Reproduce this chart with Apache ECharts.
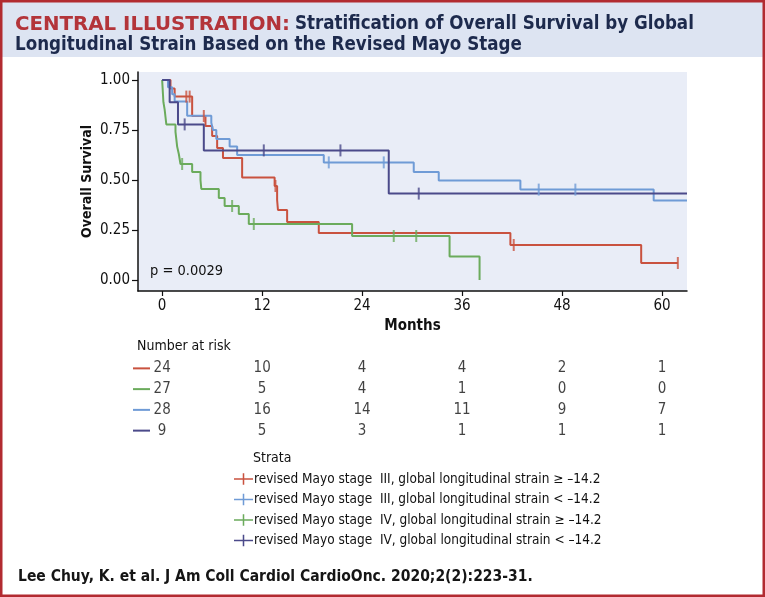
<!DOCTYPE html>
<html>
<head>
<meta charset="utf-8">
<script src="https://cdn.jsdelivr.net/npm/echarts@6/dist/echarts.min.js"></script>
<style>
  html, body { margin: 0; padding: 0; background: #fff; }
  #chart { width: 765px; height: 597px; }
</style>
</head>
<body>
<div id="chart"></div>
<script>
  // survival curves [months, survival]
  const redSurv = [[0, 1], [1.0, 0.958], [1.5, 0.917], [3.6, 0.82], [5.2, 0.77], [6.0, 0.72], [6.6, 0.66], [7.3, 0.61], [9.6, 0.513], [13.5, 0.47], [13.8, 0.40], [13.9, 0.35], [15.0, 0.29], [18.8, 0.235], [41.8, 0.175], [57.5, 0.085], [61.9, 0.085]]
  const redCens = [[2.9, 0.917], [3.3, 0.917], [5.0, 0.82], [13.6, 0.47], [42.2, 0.175], [61.9, 0.085]]
  const blueSurv = [[0, 1], [0.7, 0.964], [1.2, 0.929], [1.5, 0.893], [3.0, 0.821], [5.9, 0.786], [6.1, 0.75], [6.5, 0.705], [8.1, 0.667], [9.0, 0.625], [19.4, 0.588], [30.2, 0.54], [33.2, 0.497], [43.0, 0.452], [59.0, 0.397], [63, 0.397]]
  const blueCens = [[20.0, 0.588], [26.6, 0.588], [45.2, 0.452], [49.6, 0.452]]
  const greenSurv = [[0, 1], [0.05, 0.963], [0.1, 0.926], [0.15, 0.889], [0.3, 0.852], [0.4, 0.815], [0.5, 0.778], [1.6, 0.741], [1.7, 0.704], [1.8, 0.667], [2.0, 0.63], [2.2, 0.58], [3.6, 0.54], [4.6, 0.50], [4.7, 0.455], [6.8, 0.41], [7.5, 0.37], [9.2, 0.33], [10.4, 0.28], [22.8, 0.22], [34.5, 0.117], [38.1, 0]]
  const greenCens = [[2.4, 0.58], [8.4, 0.37], [11.0, 0.28], [27.8, 0.22], [30.5, 0.22]]
  const purpleSurv = [[0, 1], [0.9, 0.889], [1.9, 0.778], [5.0, 0.648], [27.2, 0.432], [63, 0.432]]
  const purpleCens = [[2.7, 0.778], [12.2, 0.648], [21.4, 0.648], [30.8, 0.432]]

  // axes ticks
  const monthTicks = [0, 12, 24, 36, 48, 60]
  const survTicks = [0, 0.25, 0.5, 0.75, 1]

  // number at risk (rows: red, green, blue, purple)
  const riskTimes = [0, 12, 24, 36, 48, 60]
  const riskRed = [24, 10, 4, 4, 2, 1]
  const riskGreen = [27, 5, 4, 1, 0, 0]
  const riskBlue = [28, 16, 14, 11, 9, 7]
  const riskPurple = [9, 5, 3, 1, 1, 1]

  const strata = [
    'revised Mayo stage  III, global longitudinal strain ≥ –14.2',
    'revised Mayo stage  III, global longitudinal strain < –14.2',
    'revised Mayo stage  IV, global longitudinal strain ≥ –14.2',
    'revised Mayo stage  IV, global longitudinal strain < –14.2'
  ]

  const RED = '#c9523f'
  const BLUE = '#6f9bd6'
  const GREEN = '#6bab5c'
  const PURPLE = '#4b4a8a'
  const FONT = "'Liberation Sans Narrow', 'DejaVu Sans Condensed', sans-serif"

  const riskRows = ['r', 'g', 'b', 'p']
  const riskColors = [RED, GREEN, BLUE, PURPLE]
  const riskData = [];
  [riskRed, riskGreen, riskBlue, riskPurple].forEach((arr, i) => {
    arr.forEach((v, j) => riskData.push([riskTimes[j], riskRows[i], v]))
  })

  function kmLine (name, color, data) {
    return {
      name: name,
      type: 'line',
      step: 'end',
      showSymbol: false,
      symbol: 'none',
      color: color,
      lineStyle: { width: 2, color: color },
      data: data,
      z: 3
    }
  }
  function censor (color, data) {
    return {
      name: 'cens',
      type: 'scatter',
      symbol: 'rect',
      symbolSize: [2, 12],
      itemStyle: { color: color },
      data: data,
      z: 4
    }
  }

  const chart = echarts.init(document.getElementById('chart'))
  chart.setOption({
    animation: false,
    backgroundColor: '#fff',
    title: {
      left: 10,
      top: 9,
      text: '{a|CENTRAL ILLUSTRATION:} {b|Stratification of Overall Survival by Global}\n{b|Longitudinal Strain Based on the Revised Mayo Stage}',
      textStyle: {
        rich: {
          a: { color: '#b3343a', fontWeight: 'bold', fontSize: 19.8, fontFamily: "'DejaVu Sans', sans-serif", lineHeight: 21 },
          b: { color: '#1d2a4d', fontWeight: 'bold', fontSize: 18.6, fontFamily: FONT, lineHeight: 21 }
        }
      }
    },
    graphic: [
      { type: 'rect', shape: { x: 0, y: 0, width: 765, height: 57 }, style: { fill: '#dde4f2' }, z: -10 },
      { type: 'rect', shape: { x: 1.25, y: 1.25, width: 762.5, height: 594.5 }, style: { fill: null, stroke: '#b22b31', lineWidth: 2.5 }, z: 100 },
      { type: 'text', left: 150, top: 264, style: { text: 'p = 0.0029', font: '14.5px ' + FONT, fill: '#111' }, z: 10 },
      { type: 'text', left: 137, top: 339, style: { text: 'Number at risk', font: '14px ' + FONT, fill: '#111' } },
      { type: 'text', left: 253, top: 451, style: { text: 'Strata', font: '14px ' + FONT, fill: '#111' } },
      { type: 'text', left: 18, top: 569, style: { text: 'Lee Chuy, K. et al. J Am Coll Cardiol CardioOnc. 2020;2(2):223-31.', font: 'bold 15.5px ' + FONT, fill: '#151515' } }
    ],
    legend: {
      data: strata,
      orient: 'vertical',
      left: 229,
      top: 467,
      itemWidth: 19,
      itemHeight: 12,
      itemGap: 6.5,
      icon: 'path://M0,5.2h20v1.6h-20z M9.2,0h1.6v12h-1.6z',
      textStyle: { fontFamily: FONT, fontSize: 13.5, color: '#111', padding: [0, 0, 0, -4] },
      selectedMode: false
    },
    grid: [
      { left: 138, top: 72, width: 549, height: 219, backgroundColor: '#e9edf7', show: true, borderWidth: 0 },
      { left: 138, top: 358, width: 549, height: 83 }
    ],
    xAxis: [{
      type: 'value',
      gridIndex: 0,
      min: -2.9,
      max: 63,
      name: 'Months',
      nameLocation: 'middle',
      nameGap: 28,
      nameTextStyle: { fontFamily: FONT, fontWeight: 'bold', fontSize: 15, color: '#111' },
      axisLine: { show: true, onZero: false, lineStyle: { color: '#111', width: 1.5 } },
      axisTick: { show: true, length: 5, customValues: monthTicks, lineStyle: { color: '#111', width: 1.2 } },
      axisLabel: { customValues: monthTicks, fontFamily: FONT, fontSize: 15, color: '#111', margin: 8 },
      splitLine: { show: false }
    }, {
      type: 'value',
      gridIndex: 1,
      min: -2.9,
      max: 63,
      show: false
    }],
    yAxis: [{
      type: 'value',
      gridIndex: 0,
      min: -0.055,
      max: 1.04,
      name: 'Overall Survival',
      nameLocation: 'middle',
      nameGap: 44,
      nameMoveOverlap: false,
      nameTextStyle: { fontFamily: FONT, fontWeight: 'bold', fontSize: 14, color: '#111' },
      axisLine: { show: true, onZero: false, lineStyle: { color: '#111', width: 1.5 } },
      axisTick: { show: true, length: 6, customValues: survTicks, lineStyle: { color: '#111', width: 1.2 } },
      axisLabel: {
        customValues: survTicks,
        fontFamily: FONT,
        fontSize: 15,
        color: '#111',
        margin: 8,
        formatter: v => v.toFixed(2)
      },
      splitLine: { show: false }
    }, {
      type: 'category',
      gridIndex: 1,
      inverse: true,
      data: riskRows,
      axisLine: { show: false },
      axisTick: { show: false },
      axisLabel: {
        margin: -12,
        formatter: (v, i) => '{d' + i + '| }',
        rich: {
          d0: { backgroundColor: riskColors[0], width: 17, height: 2 },
          d1: { backgroundColor: riskColors[1], width: 17, height: 2 },
          d2: { backgroundColor: riskColors[2], width: 17, height: 2 },
          d3: { backgroundColor: riskColors[3], width: 17, height: 2 }
        }
      }
    }],
    series: [
      kmLine(strata[0], RED, redSurv),
      kmLine(strata[1], BLUE, blueSurv),
      kmLine(strata[2], GREEN, greenSurv),
      kmLine(strata[3], PURPLE, purpleSurv),
      censor(RED, redCens),
      censor(BLUE, blueCens),
      censor(GREEN, greenCens),
      censor(PURPLE, purpleCens),
      {
        name: 'risk',
        type: 'scatter',
        xAxisIndex: 1,
        yAxisIndex: 1,
        symbolSize: 1,
        itemStyle: { color: 'transparent' },
        label: {
          show: true,
          position: 'inside',
          formatter: p => String(p.value[2]),
          fontFamily: FONT,
          fontSize: 15,
          color: '#111'
        },
        data: riskData
      }
    ]
  })
</script>
</body>
</html>
